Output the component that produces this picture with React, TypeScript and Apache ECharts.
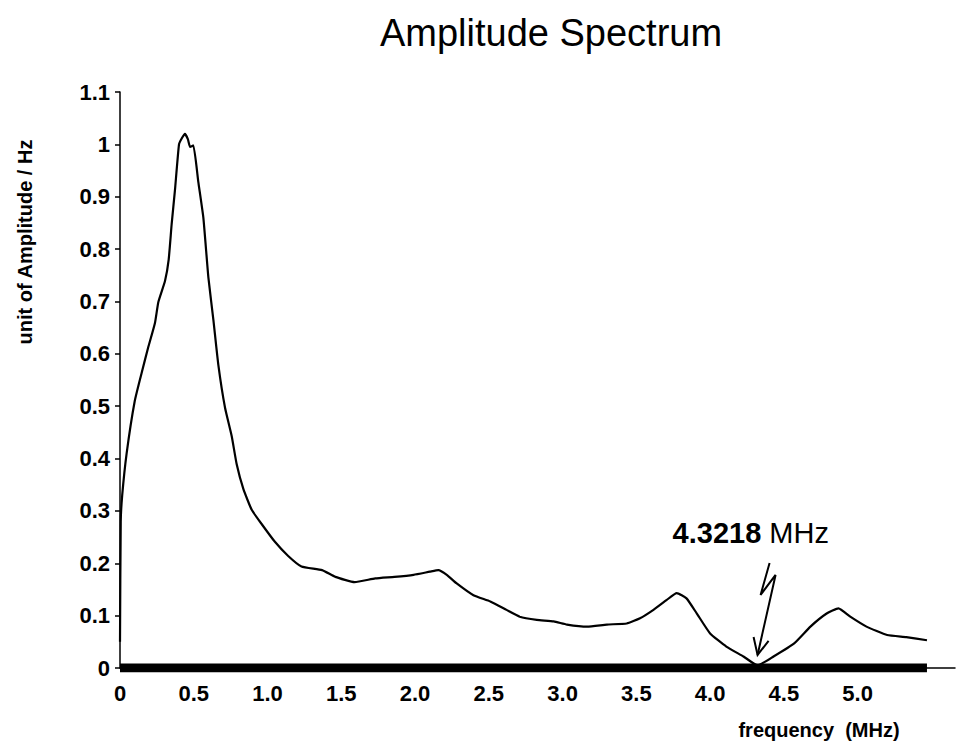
import React, { useEffect, useRef } from "react";
import * as echarts from "echarts";

// ---- data ----
const freq = [
  0, 0.005, 0.015, 0.045, 0.10, 0.147, 0.19, 0.237, 0.26, 0.305, 0.33, 0.35, 0.373, 0.40, 0.42, 0.44, 0.46,
  0.475, 0.497, 0.531, 0.565, 0.599, 0.633, 0.667, 0.712, 0.757, 0.791, 0.836, 0.893, 0.96, 1.05,
  1.14, 1.23, 1.37, 1.46, 1.59, 1.73, 1.86, 1.99, 2.10, 2.158, 2.215, 2.28, 2.396, 2.51, 2.62,
  2.71, 2.825, 2.94, 3.03, 3.167, 3.30, 3.435, 3.525, 3.616, 3.706, 3.774, 3.84, 3.91, 4.0,
  4.11, 4.226, 4.3218, 4.43, 4.57, 4.68, 4.79, 4.87, 4.95, 5.06, 5.20, 5.33, 5.47,
];
const amplitude = [
  0.05, 0.28, 0.33, 0.41, 0.51, 0.564, 0.611, 0.659, 0.699, 0.739, 0.78, 0.847, 0.914, 1.0, 1.012, 1.02, 1.01,
  0.995, 0.998, 0.928, 0.86, 0.746, 0.665, 0.578, 0.497, 0.443, 0.389, 0.342, 0.302, 0.275, 0.241,
  0.214, 0.194, 0.187, 0.174, 0.164, 0.171, 0.174, 0.178, 0.184, 0.187, 0.178, 0.162, 0.139, 0.127, 0.111,
  0.098, 0.092, 0.089, 0.083, 0.079, 0.083, 0.085, 0.095, 0.111, 0.13, 0.143, 0.133, 0.104, 0.066,
  0.041, 0.022, 0.005, 0.022, 0.047, 0.079, 0.104, 0.114, 0.098, 0.079, 0.063, 0.059, 0.053,
];
const baselineFreq = [0, 5.47];
const baselineAmp = [0, 0];
const annotationFreq = 4.3218;
const annotationAmp = 0.025;
const annotationValue = "4.3218";
const annotationUnit = " MHz";
const titleText = "Amplitude Spectrum";
const yName = "unit of Amplitude / Hz";
const xName = "frequency  (MHz)";
const xMin = 0;
const xMax = 5.66;
const xStep = 0.5;
const yMin = 0;
const yMax = 1.1;
const yStep = 0.1;

const FONT = "'Liberation Sans', Arial, Helvetica, sans-serif";

export default function App() {
  const ref = useRef<HTMLDivElement>(null);
  useEffect(() => {
    if (!ref.current) return;
    const chart = echarts.init(ref.current, undefined, { renderer: "svg" });
    const curve = freq.map((f, i) => [f, amplitude[i]]);
    const base = baselineFreq.map((f, i) => [f, baselineAmp[i]]);
    chart.setOption({
      animation: false,
      backgroundColor: "#ffffff",
      grid: { left: 120, right: 1, top: 92, bottom: 83, containLabel: false },
      xAxis: {
        type: "value",
        min: xMin,
        max: xMax,
        interval: xStep,
        axisLine: { show: true, lineStyle: { color: "#000", width: 1.5 } },
        axisTick: { show: false },
        splitLine: { show: false },
        axisLabel: {
          margin: 14,
          color: "#000",
          fontFamily: FONT,
          fontWeight: "bold",
          fontSize: 22,
          showMaxLabel: false,
          formatter: (v: number) => (v > 5.01 ? "" : v === 0 ? "0" : v.toFixed(1)),
        },
      },
      yAxis: {
        type: "value",
        min: yMin,
        max: yMax,
        interval: yStep,
        axisLine: { show: true, lineStyle: { color: "#000", width: 1.5 } },
        axisTick: { show: true, length: 5, lineStyle: { color: "#000", width: 1.5 } },
        splitLine: { show: false },
        axisLabel: {
          margin: 10,
          color: "#000",
          fontFamily: FONT,
          fontWeight: "bold",
          fontSize: 22,
          formatter: (v: number) => {
            const r = Math.round(v * 10) / 10;
            if (r === 0) return "0";
            if (r === 1) return "1";
            return r.toFixed(1);
          },
        },
      },
      series: [
        {
          type: "line",
          data: base,
          symbol: "none",
          lineStyle: { color: "#000", width: 9 },
          silent: true,
          z: 1,
        },
        {
          type: "line",
          data: curve,
          symbol: "none",
          smooth: 0.15,
          lineStyle: { color: "#000", width: 2.2 },
          z: 2,
        },
      ],
    });

    const tip = chart.convertToPixel({ xAxisIndex: 0, yAxisIndex: 0 }, [annotationFreq, annotationAmp]) as number[];
    const tx = tip[0];
    const ty = tip[1];
    chart.setOption({
      graphic: [
        {
          type: "text",
          x: 551,
          y: 14,
          style: { text: titleText, fill: "#000", font: `38px ${FONT}`, textAlign: "center", textVerticalAlign: "top" },
        },
        {
          type: "text",
          x: 25,
          y: 242,
          rotation: Math.PI / 2,
          style: { text: yName, fill: "#000", font: `bold 20px ${FONT}`, textAlign: "center", textVerticalAlign: "middle" },
        },
        {
          type: "text",
          x: 819,
          y: 730,
          style: { text: xName, fill: "#000", font: `bold 20px ${FONT}`, textAlign: "center", textVerticalAlign: "middle" },
        },
        {
          type: "text",
          x: tx - 85,
          y: ty - 122,
          style: {
            text: `{a|${annotationValue}}{b|${annotationUnit}}`,
            textVerticalAlign: "middle",
            rich: {
              a: { fontFamily: FONT, fontSize: 29, fontWeight: "bold", fill: "#000" },
              b: { fontFamily: FONT, fontSize: 29, fill: "#000" },
            },
          },
        },
        {
          type: "polyline",
          shape: { points: [[tx + 12, ty - 92], [tx + 3, ty - 60], [tx + 18, ty - 80], [tx, ty]] },
          style: { stroke: "#000", lineWidth: 2, fill: "none" },
        },
        {
          type: "polyline",
          shape: { points: [[tx - 4, ty - 18], [tx, ty], [tx + 11, ty - 14]] },
          style: { stroke: "#000", lineWidth: 2, fill: "none" },
        },
      ],
    });
    return () => chart.dispose();
  }, []);
  return <div ref={ref} style={{ position: "fixed", left: 0, top: 0, width: 956, height: 751 }} />;
}
